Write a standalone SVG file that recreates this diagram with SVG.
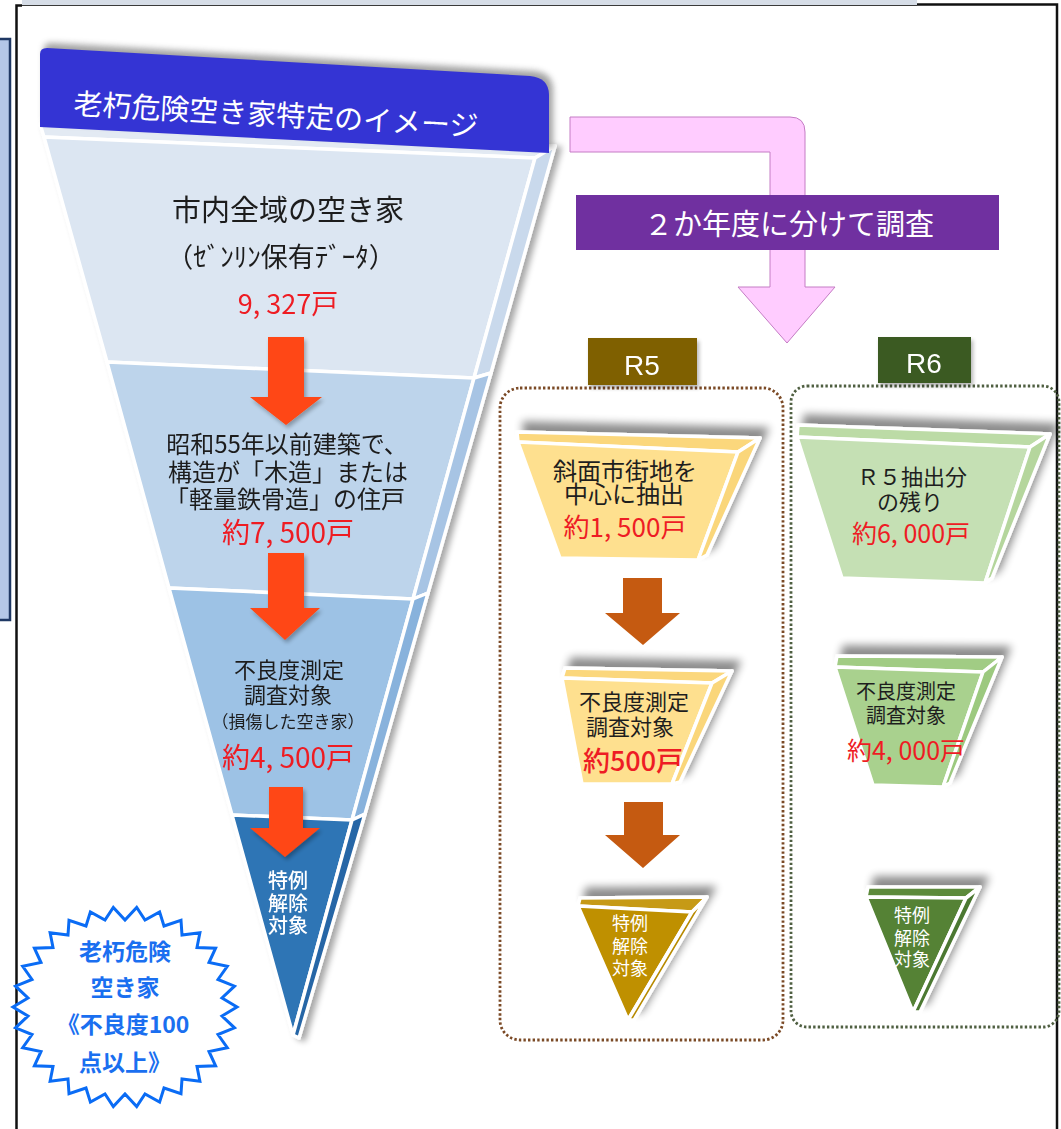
<svg xmlns="http://www.w3.org/2000/svg" width="1061" height="1129" viewBox="0 0 1061 1129">
<defs>
<style>
.jp{font-family:"Noto Sans CJK JP","Noto Sans",sans-serif;}
.lat{font-family:"Liberation Sans",Arial,sans-serif;}
.dk{fill:#1e1e1e;}
.red{fill:#ee1c24;}
.wh{fill:#ffffff;}
.ws{stroke:#ffffff;stroke-width:3.5;stroke-linejoin:round;}
.dot5{fill:none;stroke:#7b4a26;stroke-width:2.8;stroke-dasharray:2.4 2.2;}
.dot6{fill:none;stroke:#4f5f41;stroke-width:2.8;stroke-dasharray:2.4 2.2;}
.redar{fill:#ff4612;}
.brar{fill:#c55a11;}
</style>
<filter id="blur3" x="-20%" y="-50%" width="140%" height="200%"><feGaussianBlur stdDeviation="3"/></filter>
<filter id="sh" x="-30%" y="-30%" width="160%" height="160%">
<feGaussianBlur in="SourceAlpha" stdDeviation="4"/>
<feOffset dx="7" dy="-9" result="o"/>
<feComponentTransfer><feFuncA type="linear" slope="0.45"/></feComponentTransfer>
<feMerge><feMergeNode/><feMergeNode in="SourceGraphic"/></feMerge>
</filter>
<filter id="shR" x="-10%" y="-10%" width="120%" height="120%">
<feGaussianBlur in="SourceAlpha" stdDeviation="3"/>
<feOffset dx="5" dy="2"/>
<feComponentTransfer><feFuncA type="linear" slope="0.35"/></feComponentTransfer>
<feMerge><feMergeNode/><feMergeNode in="SourceGraphic"/></feMerge>
</filter>
<filter id="shA" x="-20%" y="-20%" width="140%" height="140%">
<feGaussianBlur in="SourceAlpha" stdDeviation="2"/>
<feOffset dx="2" dy="3"/>
<feComponentTransfer><feFuncA type="linear" slope="0.3"/></feComponentTransfer>
<feMerge><feMergeNode/><feMergeNode in="SourceGraphic"/></feMerge>
</filter>
</defs>

<rect width="1061" height="1129" fill="#ffffff"/>

<g id="frame">
<rect x="-4" y="39" width="14" height="581" fill="#b4c7e7" stroke="#1f3864" stroke-width="2.5"/>
<rect x="22" y="-1" width="895" height="6.5" fill="#d6dde7"/>
<line x1="22" y1="5.5" x2="917" y2="5.5" stroke="#3a3a3a" stroke-width="1.2"/>
<path d="M16.5,1129 V5.5 H22" fill="none" stroke="#111" stroke-width="2.5"/>
<path d="M917,4.5 H1057 V1129" fill="none" stroke="#111" stroke-width="2.5"/>
</g>

<g id="funnel" filter="url(#shR)">
<polygon class="ws" points="40,124 555,146 535,158 44,137" fill="#e3eaf3"/>
<g id="sec1">
<polygon class="ws" points="44,137 535,158 474,378 107,362" fill="#dce6f2"/>
<polygon class="ws" points="535,158 555,146 491,373 474,378" fill="#c9d9ec"/>
<text class="jp dk" x="288" y="221" font-size="29" text-anchor="middle">市内全域の空き家</text>
<text class="jp dk" x="281" y="267" font-size="27" text-anchor="middle">（ｾﾞﾝﾘﾝ保有ﾃﾞｰﾀ）</text>
<text class="jp red" x="288" y="314" font-size="27" text-anchor="middle">9, 327戸</text>
</g>
<g id="sec2">
<polygon class="ws" points="107,362 474,378 413,599 169,588" fill="#bdd4eb"/>
<polygon class="ws" points="474,378 491,373 428,593 413,599" fill="#a7c4e4"/>
<text class="jp dk" font-size="24" text-anchor="middle"><tspan x="287" y="453">昭和55年以前建築で、</tspan><tspan x="288" y="481">構造が「木造」または</tspan><tspan x="285" y="508">「軽量鉄骨造」の住戸</tspan></text>
<text class="jp red" x="288" y="543" font-size="28" text-anchor="middle">約7, 500戸</text>
</g>
<g id="sec3">
<polygon class="ws" points="169,588 413,599 352,820 232,815" fill="#9dc2e5"/>
<polygon class="ws" points="413,599 428,593 365,814 352,820" fill="#88b2dc"/>
<text class="jp dk" font-size="22" text-anchor="middle"><tspan x="289" y="678">不良度測定</tspan><tspan x="288" y="703">調査対象</tspan><tspan x="288" y="728" font-size="17">（損傷した空き家）</tspan></text>
<text class="jp red" x="288" y="768" font-size="28" text-anchor="middle">約4, 500戸</text>
</g>
<g id="sec4">
<polygon class="ws" points="232,815 352,820 293,1035" fill="#2e74b5"/>
<polygon class="ws" points="352,820 365,814 299,1038 293,1035" fill="#2766a6"/>
<text class="jp wh" font-size="20" font-weight="500" text-anchor="middle"><tspan x="288" y="888">特例</tspan><tspan x="288" y="911">解除</tspan><tspan x="288" y="933">対象</tspan></text>
</g>
</g>

<g id="title">
<path d="M40,54 Q40,48 47,48 L530,76 Q549,78 549,95 L549,153 L40,127 Z" fill="#555" opacity="0.55" filter="url(#blur3)" transform="translate(4,-5)"/>
<path d="M40,54 Q40,48 47,48 L530,76 Q549,78 549,95 L549,153 L40,127 Z" fill="#3434d4"/>
<text class="jp wh" x="73" y="114" font-size="29" transform="rotate(3.2 73 114)">老朽危険空き家特定のイメージ</text>
</g>

<g id="starburst">
<polygon points="237,1007 222,1016 234.5,1027.8 218,1034.5 227.3,1047.7 209,1051.5 215.6,1065.8 197,1066.5 199.9,1081.3 182,1079 181,1093.6 164,1088 159.6,1102.1 145,1094 136.7,1106.5 125,1094 113.3,1106.5 105,1094 90.4,1102.1 86,1088 69,1093.6 68,1079 50.1,1081.3 53,1066.5 34.4,1065.8 41,1051.5 22.7,1047.7 32,1034.5 15.5,1027.8 28,1016 13,1007 28,998 15.5,986.2 32,979.5 22.7,966.3 41,962.5 34.4,948.2 53,947.5 50.1,932.7 68,935 69,920.4 86,926 90.4,911.9 105,920 113.3,907.5 125,920 136.7,907.5 145,920 159.6,911.9 164,926 181,920.4 182,935 199.9,932.7 197,947.5 215.6,948.2 209,962.5 227.3,966.3 218,979.5 234.5,986.2 222,998" fill="#ffffff" stroke="#0a6cf5" stroke-width="3" stroke-linejoin="miter"/>
<text class="jp" font-size="23" font-weight="bold" fill="#1a6ff0" text-anchor="middle"><tspan x="125" y="960">老朽危険</tspan><tspan x="125" y="996">空き家</tspan><tspan x="123" y="1033">《不良度100</tspan><tspan x="125" y="1071">点以上》</tspan></text>
</g>

<g id="connectors">
<path id="split-arrow" d="M570,117 L790,117 Q805,117 805,132 L805,287 L835,287 L787,343 L738,287 L770,287 L770,152 L570,152 Z" fill="#ffccff" stroke="#c47cc4" stroke-width="1"/>
<g filter="url(#shA)">
<polygon class="redar" points="268,337 304,337 304,397 322,397 286,425 250,397 268,397"/>
<polygon class="redar" points="268,553 304,553 304,608 320,608 285,640 250,608 268,608"/>
<polygon class="redar" points="269,787 303,787 303,828 320,828 285,857 250,828 269,828"/>
</g>
<polygon class="brar" points="623,578 662,578 662,613 680,613 643,645 605,613 623,613"/>
<polygon class="brar" points="624,802 663,802 663,835 680,835 643,868 605,835 624,835"/>
</g>

<g id="split-label">
<rect x="576" y="195" width="423" height="55" fill="#7030a0"/>
<text class="jp wh" x="789" y="235" font-size="29" text-anchor="middle">２か年度に分けて調査</text>
</g>

<g id="r5-box"><rect class="dot5" x="500" y="388" width="283" height="652" rx="20"/></g>
<g id="r6-box"><rect class="dot6" x="791" y="386" width="268" height="641" rx="16"/></g>

<g id="r5-label" filter="url(#shA)">
<rect x="588" y="338" width="109" height="47" fill="#7f6000"/>
<text class="lat wh" x="642" y="375" font-size="28" text-anchor="middle">R5</text>
</g>
<g id="r6-label" filter="url(#shA)">
<rect x="878" y="337" width="93" height="46" fill="#3b5a23"/>
<text class="lat wh" x="924" y="373" font-size="28" text-anchor="middle">R6</text>
</g>

<g id="r5-extract">
<g filter="url(#sh)">
<polygon class="ws" points="518,442 517,432 760,438 738,452" fill="#fbd77c"/>
<polygon class="ws" points="518,442 738,452 698,560 560,558" fill="#fee08f"/>
<polygon class="ws" points="738,452 760,438 707,555 698,560" fill="#fad67a"/>
</g>
<text class="jp dk" font-size="24" text-anchor="middle"><tspan x="625" y="480">斜面市街地を</tspan><tspan x="624" y="503">中心に抽出</tspan></text>
<text class="jp red" x="625" y="537" font-size="26" text-anchor="middle">約1, 500戸</text>
</g>

<g id="r5-survey">
<g filter="url(#sh)">
<polygon class="ws" points="562,678 565,668 732,671 712,683" fill="#fbd77c"/>
<polygon class="ws" points="562,678 712,683 672,784 582,784" fill="#fee08f"/>
<polygon class="ws" points="712,683 732,671 680,782 672,784" fill="#fad67a"/>
</g>
<text class="jp dk" font-size="22" text-anchor="middle"><tspan x="634" y="710">不良度測定</tspan><tspan x="630" y="735">調査対象</tspan></text>
<text class="jp red" x="633" y="771" font-size="27" font-weight="500" text-anchor="middle">約500戸</text>
</g>

<g id="r5-target">
<g filter="url(#sh)">
<polygon class="ws" points="578,906 580,898 707,897 692,912" fill="#c69a12"/>
<polygon class="ws" points="578,906 692,912 628,1020" fill="#bf9000"/>
<polygon class="ws" points="692,912 707,897 634,1020 628,1020" fill="#b78a00"/>
</g>
<text class="jp wh" font-size="18" text-anchor="middle"><tspan x="630" y="930">特例</tspan><tspan x="630" y="953">解除</tspan><tspan x="630" y="975">対象</tspan></text>
</g>

<g id="r6-rest">
<g filter="url(#sh)">
<polygon class="ws" points="797,437 798,425 1050,434 1030,447" fill="#bcdba6"/>
<polygon class="ws" points="797,437 1030,447 985,583 842,578" fill="#c5e0b4"/>
<polygon class="ws" points="1030,447 1050,434 992,578 985,583" fill="#b5d69d"/>
</g>
<text class="jp dk" font-size="22" text-anchor="middle"><tspan x="912" y="485">Ｒ５抽出分</tspan><tspan x="910" y="510">の残り</tspan></text>
<text class="jp red" x="911" y="543" font-size="25" text-anchor="middle">約6, 000戸</text>
</g>

<g id="r6-survey">
<g filter="url(#sh)">
<polygon class="ws" points="835,667 837,656 1002,657 983,672" fill="#a1cc84"/>
<polygon class="ws" points="835,667 983,672 943,787 873,785" fill="#a9d18e"/>
<polygon class="ws" points="983,672 1002,657 950,783 943,787" fill="#9cc97f"/>
</g>
<text class="jp dk" font-size="20" text-anchor="middle"><tspan x="906" y="699">不良度測定</tspan><tspan x="906" y="723">調査対象</tspan></text>
<text class="jp red" x="906" y="760" font-size="25" text-anchor="middle">約4, 000戸</text>
</g>

<g id="r6-target">
<g filter="url(#sh)">
<polygon class="ws" points="866,897 868,887 980,887 966,898" fill="#5b8a3a"/>
<polygon class="ws" points="866,897 966,898 913,1012" fill="#548235"/>
<polygon class="ws" points="966,898 980,887 920,1012 913,1012" fill="#4c7830"/>
</g>
<text class="jp wh" font-size="18" text-anchor="middle"><tspan x="912" y="922">特例</tspan><tspan x="912" y="945">解除</tspan><tspan x="912" y="966">対象</tspan></text>
</g>
</svg>
